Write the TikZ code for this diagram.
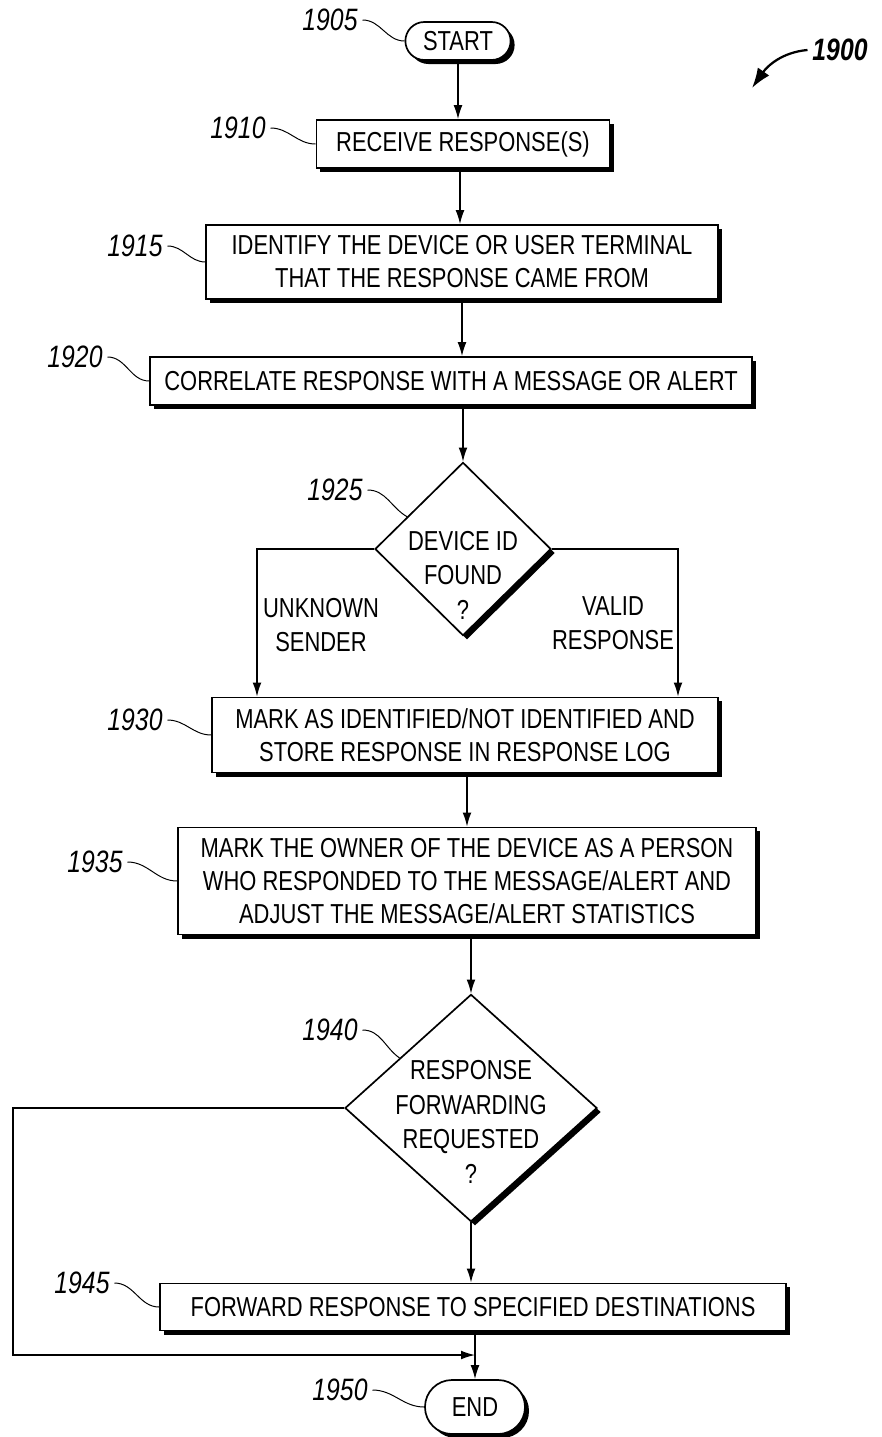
\documentclass[tikz,border=0pt]{standalone}
\usepackage{fontspec}
\setmainfont{Liberation Sans}[FakeStretch=0.8]
\usepackage{tikz}
\usetikzlibrary{shapes}
\usetikzlibrary{shapes.misc}
\usetikzlibrary{shapes.geometric}
\usetikzlibrary{shadows}
\usetikzlibrary{arrows.meta}
\usetikzlibrary{positioning}
\tikzset{
    myshadow/.style = {drop shadow={shadow xshift=1mm, shadow yshift=-1mm, fill=black, opacity=1}},
    mybox/.style = {rectangle, draw=black, line width=1.2pt, fill=white, align=center, inner sep=0pt, myshadow, font=\fontsize{19.5}{23.5}\selectfont},
    myterm/.style = {rounded rectangle, draw=black, line width=1.2pt, fill=white, inner sep=0pt, myshadow, font=\fontsize{19.5}{22}\selectfont},
    mydia/.style = {diamond, draw=black, line width=1.2pt, fill=white, inner sep=0pt, myshadow},
    mytext/.style = {align=center, font=\fontsize{19.5}{24.5}\selectfont},
    mylabel/.style = {font=\fontsize{22}{26}\selectfont\itshape},
    myarrow/.style = {line width=0.9pt, -{Latex[length=3.5mm,width=2.2mm]}},
    mylead/.style = {line width=0.7pt},
}
\begin{document}
\begin{tikzpicture}[x=0.025cm, y=-0.025cm]
    \useasboundingbox (0,0) rectangle (881,1437);

    % steps
    \node[myterm, minimum width=2.63cm, minimum height=0.95cm] (start) at (458,41) {START};
    \node[mybox, minimum width=7.33cm, minimum height=1.2cm] (rcv) at (463,144) {RECEIVE RESPONSE(S)};
    \node[mybox, minimum width=12.78cm, minimum height=1.85cm] (ident) at (462,262) {IDENTIFY THE DEVICE OR USER TERMINAL\\THAT THE RESPONSE CAME FROM};
    \node[mybox, minimum width=15.05cm, minimum height=1.2cm] (corr) at (451,381) {CORRELATE RESPONSE WITH A MESSAGE OR ALERT};
    \node[mydia, minimum width=4.4cm, minimum height=4.33cm] (found) at (463,549) {};
    \node[mytext] (foundtxt) at (463,575) {DEVICE ID\\FOUND\\?};
    \node[mybox, minimum width=12.65cm, minimum height=1.88cm] (mark) at (465,735) {MARK AS IDENTIFIED/NOT IDENTIFIED AND\\STORE RESPONSE IN RESPONSE LOG};
    \node[mybox, minimum width=14.45cm, minimum height=2.68cm] (owner) at (467,881) {MARK THE OWNER OF THE DEVICE AS A PERSON\\WHO RESPONDED TO THE MESSAGE/ALERT AND\\ADJUST THE MESSAGE/ALERT STATISTICS};
    \node[mydia, minimum width=6.3cm, minimum height=5.68cm] (fwdq) at (471,1108) {};
    \node[mytext] (fwdqtxt) at (471,1122) {RESPONSE\\FORWARDING\\REQUESTED\\?};
    \node[mybox, minimum width=15.65cm, minimum height=1.18cm] (fwd) at (473,1307) {FORWARD RESPONSE TO SPECIFIED DESTINATIONS};
    \node[myterm, minimum width=2.5cm, minimum height=1.35cm] (end) at (475,1407) {END};

    % reference numbers
    \node[mylabel] (l1905) at (330,20) {1905};
    \node[mylabel] (l1910) at (238,128) {1910};
    \node[mylabel] (l1915) at (135,246) {1915};
    \node[mylabel] (l1920) at (75,357) {1920};
    \node[mylabel] (l1925) at (335,490) {1925};
    \node[mylabel] (l1930) at (135,720) {1930};
    \node[mylabel] (l1935) at (95,862) {1935};
    \node[mylabel] (l1940) at (330,1030) {1940};
    \node[mylabel] (l1945) at (82,1283) {1945};
    \node[mylabel] (l1950) at (340,1390) {1950};
    \node[mylabel, font=\fontsize{22}{26}\selectfont\bfseries\itshape] (l1900) at (840,50) {1900};

    \draw[mylead] (l1905.east) to[out=0, in=180] (start.west);
    \draw[mylead] (l1910.east) to[out=0, in=180] (rcv.west);
    \draw[mylead] (l1915.east) to[out=0, in=180] (ident.west);
    \draw[mylead] (l1920.east) to[out=0, in=180] (corr.west);
    \draw[mylead] (l1925.east) to[out=0, in=150] (found.150);
    \draw[mylead] (l1930.east) to[out=0, in=180] (mark.west);
    \draw[mylead] (l1935.east) to[out=0, in=180] (owner.west);
    \draw[mylead] (l1940.east) to[out=0, in=145] (fwdq.145);
    \draw[mylead] (l1945.east) to[out=0, in=180] (fwd.west);
    \draw[mylead] (l1950.east) to[out=0, in=180] (end.west);

    \coordinate (tip1900) at (752,88);
    \draw[line width=1.6pt, -{Latex[length=5mm,width=3.5mm]}] (l1900.west) to[out=185, in=55] (tip1900);

    % flow
    \draw[myarrow] (start.south) -- (start.south |- rcv.north);
    \draw[myarrow] (rcv.south -| 460,0) -- (460,0 |- ident.north);
    \draw[myarrow] (ident.south) -- (ident.south |- corr.north);
    \draw[myarrow] (found.north |- corr.south) -- (found.north);

    \coordinate (lbr) at (257,549);
    \coordinate (rbr) at (678,549);
    \draw[myarrow] (found.west) -- (lbr) -- (lbr |- mark.north);
    \draw[myarrow] (found.east) -- (rbr) -- (rbr |- mark.north);
    \node[mytext] (unk) at (321,625) {UNKNOWN\\SENDER};
    \node[mytext] (val) at (613,623) {VALID\\RESPONSE};

    \draw[myarrow] (owner.north |- mark.south) -- (owner.north);
    \draw[myarrow] (fwdq.north |- owner.south) -- (fwdq.north);
    \draw[myarrow] (fwdq.south) -- (fwdq.south |- fwd.north);
    \draw[myarrow] (end.north |- fwd.south) -- (end.north);

    \coordinate (lp1) at (13,1108);
    \coordinate (lp2) at (13,1355);
    \draw[myarrow] (fwdq.west) -- (lp1) -- (lp2) -- (lp2 -| end.north);
\end{tikzpicture}
\end{document}
